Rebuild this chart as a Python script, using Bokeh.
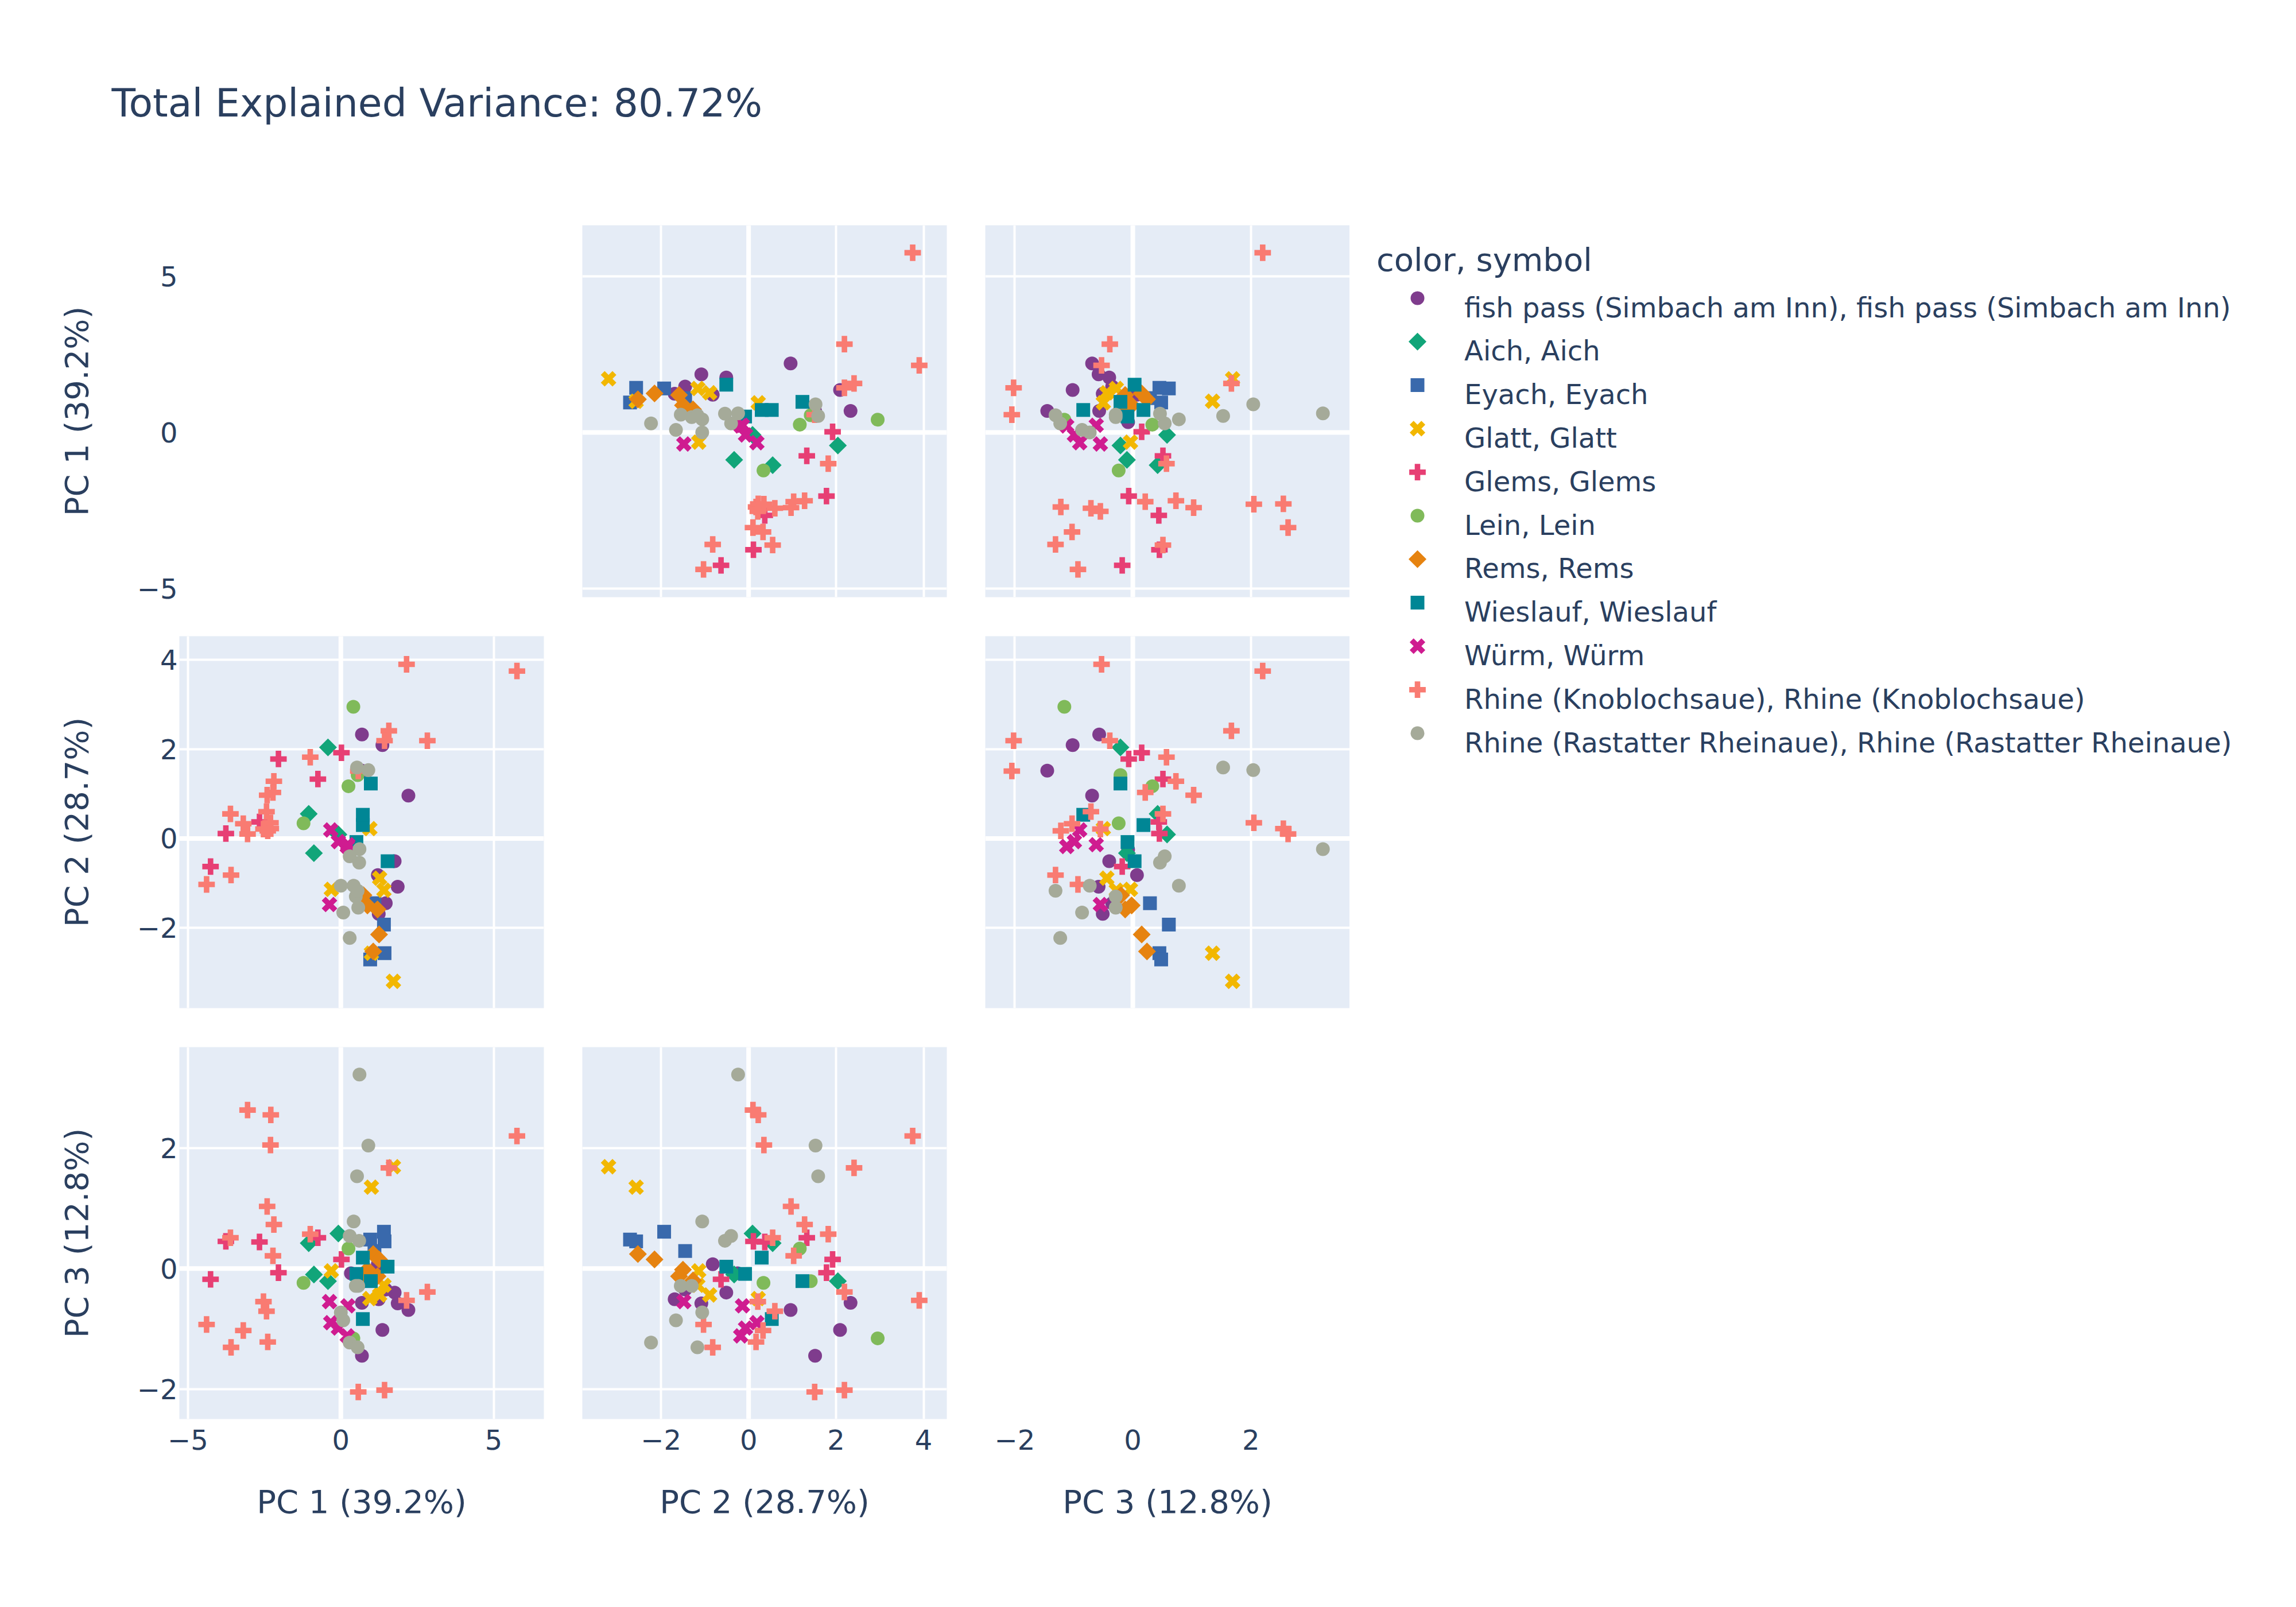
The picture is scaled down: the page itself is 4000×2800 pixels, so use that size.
import numpy as np
from bokeh.plotting import figure
from bokeh.models import Range1d, FixedTicker, CustomJSTickFormatter, Span, Grid
from bokeh.layouts import row, column
from bokeh.core.properties import value
from bokeh.embed import file_html
from bokeh.resources import INLINE

# PCA scores per sampling site
fish_pass = dict(pc1=[0.69, 1.36, 2.21, 1.76, 1.21, 1.86, 1.47, 1.24, 0.69, 0.33],
                 pc2=[2.33, 2.09, 0.96, -0.51, -0.82, -1.08, -1.45, -1.69, 1.52, -0.25],
                 pc3=[-0.57, -1.02, -0.69, -0.40, 0.07, -0.58, -0.35, -0.51, -1.45, -0.08])
aich = dict(pc1=[-0.42, -1.05, -0.08, -0.88],
            pc2=[2.04, 0.55, 0.09, -0.33],
            pc3=[-0.21, 0.42, 0.58, -0.10])
eyach = dict(pc1=[1.10, 1.41, 1.43, 0.96],
             pc2=[-1.45, -1.93, -2.57, -2.71],
             pc3=[0.29, 0.61, 0.45, 0.48])
glatt = dict(pc1=[1.72, 1.00, -0.31, 0.95, 1.27, 1.41],
             pc2=[-3.20, -2.57, -1.14, 0.22, -0.89, -1.16],
             pc3=[1.69, 1.35, -0.04, -0.50, -0.44, -0.28])
glems = dict(pc1=[-2.04, 0.02, -0.75, -3.76, -2.66, -4.26],
             pc2=[1.78, 1.92, 1.33, 0.11, 0.37, -0.63],
             pc3=[-0.07, 0.15, 0.51, 0.45, 0.44, -0.18])
lein = dict(pc1=[0.41, 0.25, 0.55, -1.22],
            pc2=[2.95, 1.17, 1.42, 0.34],
            pc3=[-1.16, 0.33, -0.21, -0.24])
rems = dict(pc1=[1.06, 1.25, 0.87, 1.20, 0.74],
            pc2=[-2.53, -2.15, -1.50, -1.59, -1.27],
            pc3=[0.24, 0.15, -0.02, -0.13, -0.20])
wieslauf = dict(pc1=[0.98, 1.53, 0.51, 0.72, 0.72],
                pc2=[1.23, -0.51, -0.08, 0.30, 0.53],
                pc3=[-0.21, 0.03, -0.09, 0.18, -0.84])
wuerm = dict(pc1=[-0.37, 0.23, -0.33, -0.08, 0.21],
             pc2=[-1.48, -0.14, 0.19, -0.07, -0.18],
             pc3=[-0.55, -0.62, -0.90, -0.99, -1.12])
rhine_knoblochsaue = dict(
    pc1=[2.15, 5.76, 1.57, 1.43, 2.83, -1.00, -2.19, -2.22, -2.41, -2.43,
         -3.61, -3.19, -3.05, -2.39, -2.29, -2.30, -3.59, -4.39, 0.57, -2.53],
    pc2=[3.90, 3.75, 2.41, 2.19, 2.19, 1.82, 1.28, 1.03, 0.97, 0.60,
         0.55, 0.33, 0.10, 0.17, 0.22, 0.35, -0.82, -1.03, 1.51, 0.21],
    pc3=[-0.53, 2.20, 1.67, -2.02, -0.39, 0.57, 0.73, 0.21, 1.03, -0.71,
         0.51, -1.03, 2.63, -1.22, 2.55, 2.05, -1.31, -0.93, -2.05, -0.55])
rhine_rastatt = dict(
    pc1=[0.61, 0.90, 0.53, 0.42, 0.29, 0.60, 0.57, 0.49, 0.00, 0.08, 0.29, 0.55],
    pc2=[-0.24, 1.53, 1.59, -1.06, -0.40, -0.54, -1.55, -1.30, -1.06, -1.66, -2.23, -1.17],
    pc3=[3.22, 2.04, 1.53, 0.78, 0.54, 0.46, -0.29, -0.29, -0.73, -0.86, -1.23, -1.31])

groups = ["fish pass (Simbach am Inn)", "Aich", "Eyach", "Glatt", "Glems", "Lein",
          "Rems", "Wieslauf", "Würm", "Rhine (Knoblochsaue)", "Rhine (Rastatter Rheinaue)"]
scores = [fish_pass, aich, eyach, glatt, glems, lein, rems, wieslauf, wuerm,
          rhine_knoblochsaue, rhine_rastatt]
colors = ["#7F3C8D", "#11A579", "#3969AC", "#F2B701", "#E73F74", "#80BA5A",
          "#E68310", "#008695", "#CF1C90", "#F97B72", "#A5AA99"]
symbols = ["circle", "diamond", "square", "x", "cross",
           "circle", "diamond", "square", "x", "cross", "circle"]

axis_titles = ["PC 1 (39.2%)", "PC 2 (28.7%)", "PC 3 (12.8%)"]
axis_ticks = [[-5, 0, 5], [-2, 0, 2, 4], [-2, 0, 2]]
axis_ranges = [(-5.28, 6.64), (-3.80, 4.53), (-2.50, 3.675)]

FONT = "DejaVu Sans"
INK = "#2a3f5f"
BG = "#E5ECF6"
FW, FH = 635, 648        # panel frame size
GAP_X, GAP_Y = 67, 68
LEFT, BOTTOM = 312, 300


def marker_style(sym, color):
    # plotly-like filled shapes: x is the cross turned by 45 degrees
    if sym == "circle":
        return dict(marker="circle", size=24, fill_color=color, line_color=None)
    if sym == "square":
        return dict(marker="square", size=24, fill_color=color, line_color=None)
    if sym == "diamond":
        return dict(marker="square", angle=np.pi / 4, size=22, fill_color=color, line_color=None)
    if sym == "x":
        return dict(marker="cross", angle=np.pi / 4, size=28.8, line_color=color, line_width=9.6)
    return dict(marker="cross", size=28.8, line_color=color, line_width=9.6)


minus_fmt = "return tick < 0 ? '\u2212' + (-tick) : '' + tick;"


def panel(r, c):
    diag = r == c
    p = figure(title=None, output_backend="svg", toolbar_location=None,
               frame_width=FW, frame_height=FH,
               x_range=Range1d(*axis_ranges[c]), y_range=Range1d(*axis_ranges[r]),
               x_axis_location="below" if r == 2 else None,
               y_axis_location="left" if c == 0 else None,
               min_border_left=LEFT if c == 0 else 0,
               min_border_right=GAP_X if c < 2 else 0,
               min_border_top=0,
               min_border_bottom=GAP_Y if r < 2 else BOTTOM,
               background_fill_color="white" if diag else BG,
               border_fill_color="white", outline_line_color=None)

    if not p.xgrid:
        p.add_layout(Grid(dimension=0))
    if not p.ygrid:
        p.add_layout(Grid(dimension=1))
    p.xgrid.ticker = FixedTicker(ticks=axis_ticks[c])
    p.ygrid.ticker = FixedTicker(ticks=axis_ticks[r])
    p.grid.grid_line_color = "white"
    p.grid.grid_line_width = 4
    p.grid.visible = not diag

    p.xaxis.ticker = FixedTicker(ticks=axis_ticks[c])
    p.xaxis.axis_label = axis_titles[c]
    p.yaxis.ticker = FixedTicker(ticks=axis_ticks[r])
    p.yaxis.axis_label = axis_titles[r]
    p.axis.formatter = CustomJSTickFormatter(code=minus_fmt)
    p.axis.axis_line_color = None
    p.axis.major_tick_line_color = None
    p.axis.minor_tick_line_color = None
    p.axis.major_tick_out = 0
    p.axis.major_tick_in = 0
    p.axis.major_label_text_font = FONT
    p.axis.major_label_text_font_size = "48px"
    p.axis.major_label_text_color = INK
    p.axis.axis_label_text_font = FONT
    p.axis.axis_label_text_font_size = "56px"
    p.axis.axis_label_text_font_style = "normal"
    p.axis.axis_label_text_color = INK
    p.xaxis.major_label_standoff = 18
    p.xaxis.axis_label_standoff = 55
    p.yaxis.major_label_standoff = 3
    p.yaxis.axis_label_standoff = 70

    if not diag:
        p.add_layout(Span(location=0, dimension="height", line_color="white",
                          line_width=8, level="underlay"))
        p.add_layout(Span(location=0, dimension="width", line_color="white",
                          line_width=8, level="underlay"))
        for s, col, sym in zip(scores, colors, symbols):
            p.scatter(x=s[f"pc{c + 1}"], y=s[f"pc{r + 1}"], **marker_style(sym, col))
    return p


grid_rows = [row(*[panel(r, c) for c in range(3)]) for r in range(3)]

# title strip
head = figure(width=3984, height=392, x_range=Range1d(0, 3984), y_range=Range1d(0, 392),
              min_border=0, title=None, output_backend="svg", toolbar_location=None,
              x_axis_location=None, y_axis_location=None, outline_line_color=None)
head.grid.visible = False
head.text(x=[194], y=[213], text=["Total Explained Variance: 80.72%"],
          text_font=value(FONT), text_font_size=value("68px"), text_color=INK,
          text_baseline="alphabetic", text_align="left")

# legend column on the right
LW, LH = 1625, 2380
leg = figure(width=LW, height=LH, x_range=Range1d(0, LW), y_range=Range1d(0, LH),
             min_border=0, title=None, output_backend="svg", toolbar_location=None,
             x_axis_location=None, y_axis_location=None, outline_line_color=None)
leg.grid.visible = False
leg.text(x=[46.5], y=[LH - 60], text=["color, symbol"],
         text_font=value(FONT), text_font_size=value("56px"), text_color=INK,
         text_baseline="alphabetic", text_align="left")
for i, (g, col, sym) in enumerate(zip(groups, colors, symbols)):
    yc = LH - (127 + 75.8 * i)
    leg.scatter(x=[118], y=[yc], **marker_style(sym, col))
    leg.text(x=[199.6], y=[yc - 16], text=[f"{g}, {g}"],
             text_font=value(FONT), text_font_size=value("48px"), text_color=INK,
             text_baseline="alphabetic", text_align="left")

p = column(head, row(column(*grid_rows), leg))

open("out.html", "w", encoding="utf-8").write(file_html(p, INLINE))
